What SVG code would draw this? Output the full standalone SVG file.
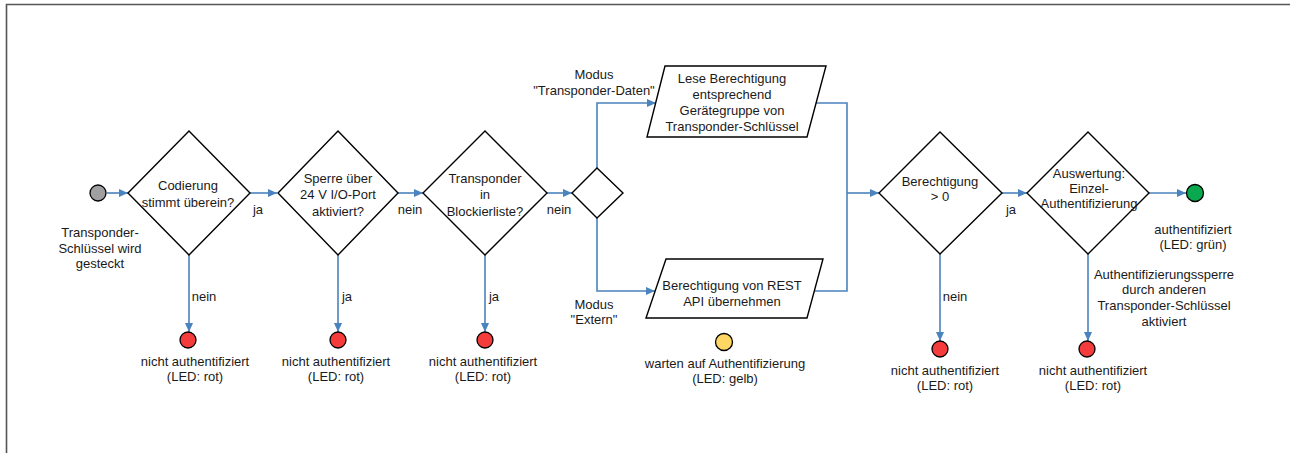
<svg xmlns="http://www.w3.org/2000/svg" width="1290" height="453" viewBox="0 0 1290 453">
<defs>
<marker id="arr" markerUnits="userSpaceOnUse" markerWidth="9" markerHeight="8" refX="9" refY="4" orient="auto">
<path d="M0,0 L9,4 L0,8 z" fill="#4a83bd"/>
</marker>
<style>
.t{font-family:"Liberation Sans",Arial,sans-serif;font-size:13px;fill:#1a1a1a;text-anchor:middle}
.c{stroke:#4a83bd;stroke-width:1.6;fill:none}
.ca{stroke:#4a83bd;stroke-width:1.6;fill:none;marker-end:url(#arr)}
.sh{fill:#fff;stroke:#000;stroke-width:1.4}
.red{fill:#f43c3c;stroke:#000;stroke-width:1.3}
</style>
</defs>
<rect width="1290" height="453" fill="#fff"/>
<path d="M6.5,453 V4.5 H1290" fill="none" stroke="#555" stroke-width="1.6"/>

<g id="connectors">
<line class="ca" x1="107" y1="193" x2="128" y2="193"/>
<line class="ca" x1="250" y1="193" x2="277" y2="193"/>
<line class="ca" x1="398" y1="193" x2="423" y2="193"/>
<line class="ca" x1="547" y1="193" x2="572" y2="193"/>
<path class="ca" d="M597,168 V103 H656"/>
<path class="ca" d="M597,218 V291 H655"/>
<path class="c" d="M816,103 H847 V291 H814"/>
<line class="ca" x1="847" y1="193" x2="879" y2="193"/>
<line class="ca" x1="1002" y1="193" x2="1027" y2="193"/>
<line class="ca" x1="1149" y1="193" x2="1186" y2="193"/>
<line class="ca" x1="189" y1="255" x2="189" y2="332"/>
<line class="ca" x1="338" y1="255" x2="338" y2="332"/>
<line class="ca" x1="485" y1="255" x2="485" y2="332"/>
<line class="ca" x1="940" y1="254" x2="940" y2="341"/>
<line class="ca" x1="1088" y1="254" x2="1088" y2="341"/>
<text class="t" x="258" y="214">ja</text>
<text class="t" x="410" y="214">nein</text>
<text class="t" x="559" y="214">nein</text>
<text class="t" x="204" y="301">nein</text>
<text class="t" x="347" y="301">ja</text>
<text class="t" x="494" y="301">ja</text>
<text class="t" x="955" y="301">nein</text>
<text class="t" x="1011" y="214">ja</text>
<text class="t" x="594" y="79">Modus</text>
<text class="t" x="594" y="95">"Transponder-Daten"</text>
<text class="t" x="594" y="309">Modus</text>
<text class="t" x="594" y="324">"Extern"</text>
<text class="t" x="1164" y="279">Authentifizierungssperre</text>
<text class="t" x="1164" y="294">durch anderen</text>
<text class="t" x="1164" y="310">Transponder-Schlüssel</text>
<text class="t" x="1164" y="326">aktiviert</text>
</g>

<g id="start">
<circle cx="98" cy="193" r="8" fill="#a0a0a3" stroke="#000" stroke-width="1.3"/>
<text class="t" x="100" y="237">Transponder-</text>
<text class="t" x="100" y="253">Schlüssel wird</text>
<text class="t" x="100" y="268">gesteckt</text>
</g>

<g id="d1">
<polygon class="sh" points="189,131 250,193 189,255 128,193"/>
<text class="t" x="188" y="190">Codierung</text>
<text class="t" x="188" y="207">stimmt überein?</text>
</g>

<g id="d2">
<polygon class="sh" points="338,131 398,193 338,255 278,193"/>
<text class="t" x="338" y="183">Sperre über</text>
<text class="t" x="338" y="199">24 V I/O-Port</text>
<text class="t" x="338" y="216">aktiviert?</text>
</g>

<g id="d3">
<polygon class="sh" points="485,131 547,193 485,255 423,193"/>
<text class="t" x="485" y="183">Transponder</text>
<text class="t" x="485" y="199">in</text>
<text class="t" x="485" y="216">Blockierliste?</text>
</g>

<g id="split">
<polygon class="sh" points="597,168 623,193 597,218 572,193"/>
</g>

<g id="p1">
<polygon class="sh" points="665,66 826,66 807,137 647,137"/>
<text class="t" x="732" y="83">Lese Berechtigung</text>
<text class="t" x="732" y="99">entsprechend</text>
<text class="t" x="732" y="115">Gerätegruppe von</text>
<text class="t" x="732" y="131">Transponder-Schlüssel</text>
</g>

<g id="p2">
<polygon class="sh" points="666,259 823,259 807,318 646,318"/>
<text class="t" x="732" y="290">Berechtigung von REST</text>
<text class="t" x="732" y="306">API übernehmen</text>
</g>

<g id="wait">
<circle cx="724" cy="342" r="8.5" fill="#fdd663" stroke="#000" stroke-width="1.3"/>
<text class="t" x="725" y="368">warten auf Authentifizierung</text>
<text class="t" x="725" y="383">(LED: gelb)</text>
</g>

<g id="d4">
<polygon class="sh" points="940,132 1002,193 940,254 879,193"/>
<text class="t" x="940" y="186">Berechtigung</text>
<text class="t" x="940" y="201">&gt; 0</text>
</g>

<g id="d5">
<polygon class="sh" points="1088,132 1149,193 1088,254 1027,193"/>
<text class="t" x="1089" y="178">Auswertung:</text>
<text class="t" x="1089" y="193">Einzel-</text>
<text class="t" x="1089" y="208">Authentifizierung</text>
</g>

<g id="ok">
<circle cx="1195" cy="193" r="8.5" fill="#0aa84f" stroke="#000" stroke-width="1.3"/>
<text class="t" x="1193" y="234">authentifiziert</text>
<text class="t" x="1193" y="249">(LED: grün)</text>
</g>

<g id="r1">
<circle class="red" cx="188" cy="340" r="8"/>
<text class="t" x="195" y="366">nicht authentifiziert</text>
<text class="t" x="195" y="381">(LED: rot)</text>
</g>
<g id="r2">
<circle class="red" cx="338" cy="340" r="8"/>
<text class="t" x="336" y="366">nicht authentifiziert</text>
<text class="t" x="336" y="381">(LED: rot)</text>
</g>
<g id="r3">
<circle class="red" cx="485" cy="340" r="8"/>
<text class="t" x="483" y="366">nicht authentifiziert</text>
<text class="t" x="483" y="381">(LED: rot)</text>
</g>
<g id="r4">
<circle class="red" cx="940" cy="349" r="8"/>
<text class="t" x="945" y="375">nicht authentifiziert</text>
<text class="t" x="945" y="390">(LED: rot)</text>
</g>
<g id="r5">
<circle class="red" cx="1087" cy="349" r="8"/>
<text class="t" x="1093" y="375">nicht authentifiziert</text>
<text class="t" x="1093" y="390">(LED: rot)</text>
</g>
</svg>
